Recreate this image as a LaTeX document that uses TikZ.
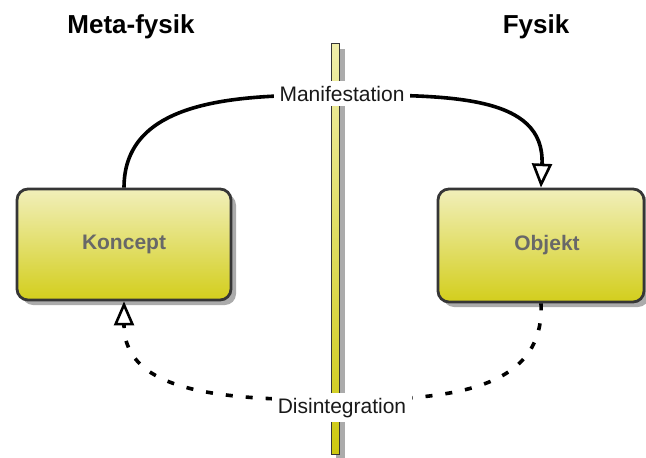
\documentclass[tikz,border=0pt]{standalone}
\usepackage{fontspec}
\setmainfont{Liberation Sans}
\usetikzlibrary{arrows.meta,shadows}
\definecolor{boxtop}{HTML}{F1EFBA}
\definecolor{boxbot}{HTML}{D3CE1C}
\definecolor{bartop}{HTML}{F0EEAA}
\definecolor{barbot}{HTML}{CDC910}
\definecolor{boxline}{HTML}{363636}
\definecolor{shadowgray}{HTML}{ABABAB}
\definecolor{labelgray}{HTML}{686868}
\tikzset{
  concept/.style={draw=boxline, line width=2.8pt, rounded corners=11pt,
    top color=boxtop, bottom color=boxbot, text=labelgray,
    font=\fontsize{21}{24}\selectfont\bfseries,
    drop shadow={shadow xshift=5pt, shadow yshift=-5pt, fill=shadowgray, opacity=1}},
  divider/.style={draw=boxline, line width=1.4pt, top color=bartop, bottom color=barbot,
    minimum width=8.5pt, inner sep=0pt,
    drop shadow={shadow xshift=5pt, shadow yshift=-5pt, fill=shadowgray, opacity=1}},
  flow/.style={line width=3.6pt, -{Triangle[open, length=24pt, width=20pt, line width=2.6pt]}},
  heading/.style={font=\fontsize{26}{30}\selectfont\bfseries, anchor=base},
  flowlabel/.style={fill=white, text=black!90, font=\fontsize{21}{24}\selectfont,
    anchor=base, inner xsep=6pt, inner ysep=5pt},
}
\begin{document}
\begin{tikzpicture}[x=1pt, y=-1pt]
  \useasboundingbox (0,0) rectangle (646,458);

  % headings
  \node[heading] (meta) at (131,33) {Meta-fysik};
  \node[heading] (phys) at (536,33) {Fysik};

  % dividing wall between the two realms
  \node[divider, minimum height=411pt] (wall) at (335.5,249) {};

  % the two boxes
  \node[concept, minimum width=214pt, minimum height=111pt] (koncept) at (124,244.5) {Koncept};
  \node[concept, minimum width=206pt, minimum height=113pt] (objekt) at (541,245.5) {\hspace*{12pt}Objekt};

  % path mid points under the labels
  \coordinate (mtop) at (342,95);
  \coordinate (dbot) at (342,400);

  % manifestation: concept -> object
  \draw[flow] (koncept.north) .. controls (124,95) and (249,95) .. (mtop)
                              .. controls (450,95) and (545,95) .. (objekt.north);

  % disintegration: object -> concept
  \draw[flow, dash pattern=on 7pt off 13pt] (objekt.south) .. controls (545,390) and (450,400) .. (dbot)
                              .. controls (230,400) and (124,395) .. (koncept.south);

  % labels on the connectors
  \node[flowlabel] (manif) at (342,101) {Manifestation};
  \node[flowlabel] (disint) at (342,413) {Disintegration};
\end{tikzpicture}
\end{document}
